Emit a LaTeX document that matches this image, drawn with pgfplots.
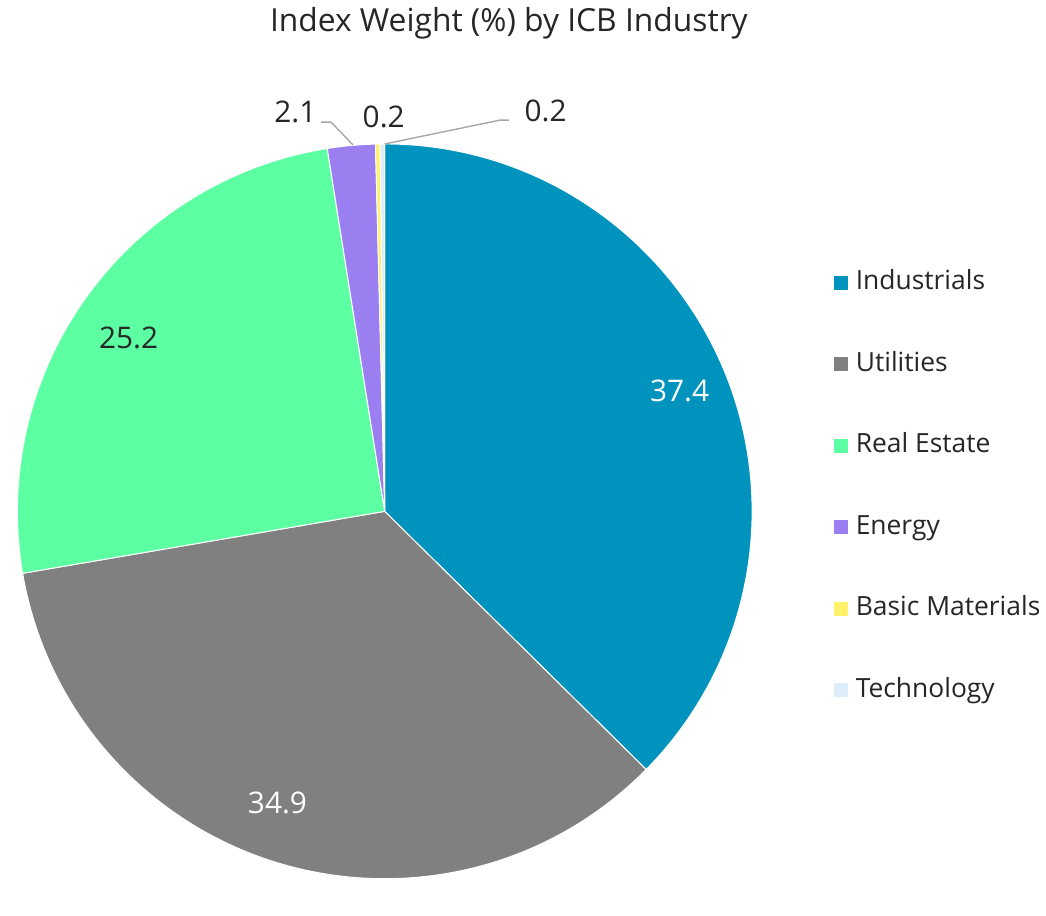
\documentclass[border=0pt]{standalone}
\usepackage{pgfplots}
\usepackage{pgfplotstable}
\pgfplotsset{compat=1.18}
\usepackage{fontspec}
\setmainfont{Open Sans}

\definecolor{c0}{HTML}{0093BE}
\definecolor{c1}{HTML}{808080}
\definecolor{c2}{HTML}{5CFFA2}
\definecolor{c3}{HTML}{9B7FF1}
\definecolor{c4}{HTML}{FFF16A}
\definecolor{c5}{HTML}{DDEEFA}
\definecolor{txt}{HTML}{262626}
\definecolor{lead}{HTML}{A6A6A6}

% value labels: lx, ly = baseline centre of the number, in picture pixels (y up)
\pgfplotstableread[col sep=comma]{
label,value,lx,ly,lc
Industrials,37.4,677,479,white
Utilities,34.9,272,64,white
Real Estate,25.2,122,532,txt
Energy,2.1,290,760,txt
Basic Materials,0.2,379,755,txt
Technology,0.2,542,761,txt
}\piedata

\pgfplotsset{sq legend/.style={legend image code/.code={\fill[##1, draw=none] (0pt,-3.5pt) rectangle (7pt,3.5pt);}}}

\begin{document}
\begin{tikzpicture}
\begin{axis}[
    x=0.5pt, y=0.5pt,
    xmin=0, xmax=1046, ymin=0, ymax=883,
    hide axis, clip=false,
    legend cell align=left,
    legend style={at={(axis cs:832,393)}, anchor=west, draw=none, fill=none,
        inner sep=0pt, row sep=28pt, column sep=4pt,
        nodes={inner sep=0pt, text height=10pt, text depth=3pt},
        font=\fontsize{13.3}{16}\selectfont, text=txt},
]
\path (axis cs:0,0) rectangle (axis cs:1046,883);
\pgfplotstablegetrowsof{\piedata}
\pgfmathtruncatemacro\lastrow{\pgfplotsretval-1}
\xdef\angA{90}
\pgfplotsinvokeforeach{0,...,\lastrow}{
  \pgfplotstablegetelem{#1}{value}\of\piedata \let\v\pgfplotsretval
  \pgfplotstablegetelem{#1}{label}\of\piedata \let\lab\pgfplotsretval
  \pgfplotstablegetelem{#1}{lx}\of\piedata \let\lx\pgfplotsretval
  \pgfplotstablegetelem{#1}{ly}\of\piedata \let\ly\pgfplotsretval
  \pgfplotstablegetelem{#1}{lc}\of\piedata \let\lc\pgfplotsretval
  \pgfmathsetmacro\angB{\angA-3.6*\v}
  \edef\temp{\noexpand\fill[c#1, draw=white, line width=0.5pt] (axis cs:380,368) -- ++(\angA:185pt)
     arc[start angle=\angA, end angle=\angB, radius=185pt] -- cycle;
     \noexpand\node[anchor=base, text=\lc, font=\noexpand\fontsize{15}{18}\noexpand\selectfont]
     at (axis cs:\lx,\ly) {\v};}
  \temp
  \addlegendimage{sq legend, fill=c#1}
  \addlegendentryexpanded{\lab}
  \xdef\angA{\angB}
}
% leader lines for the small slices
\draw[lead, line width=0.7pt] (axis cs:316,760) -- (axis cs:326,760) -- (axis cs:348,737);
\draw[lead, line width=0.7pt] (axis cs:380,738) -- (axis cs:496,762) -- (axis cs:505,762);
\node[anchor=base, text=txt, font=\fontsize{16}{19}\selectfont] at (axis cs:505,851) {Index Weight (\%) by ICB Industry};
\end{axis}
\end{tikzpicture}
\end{document}
